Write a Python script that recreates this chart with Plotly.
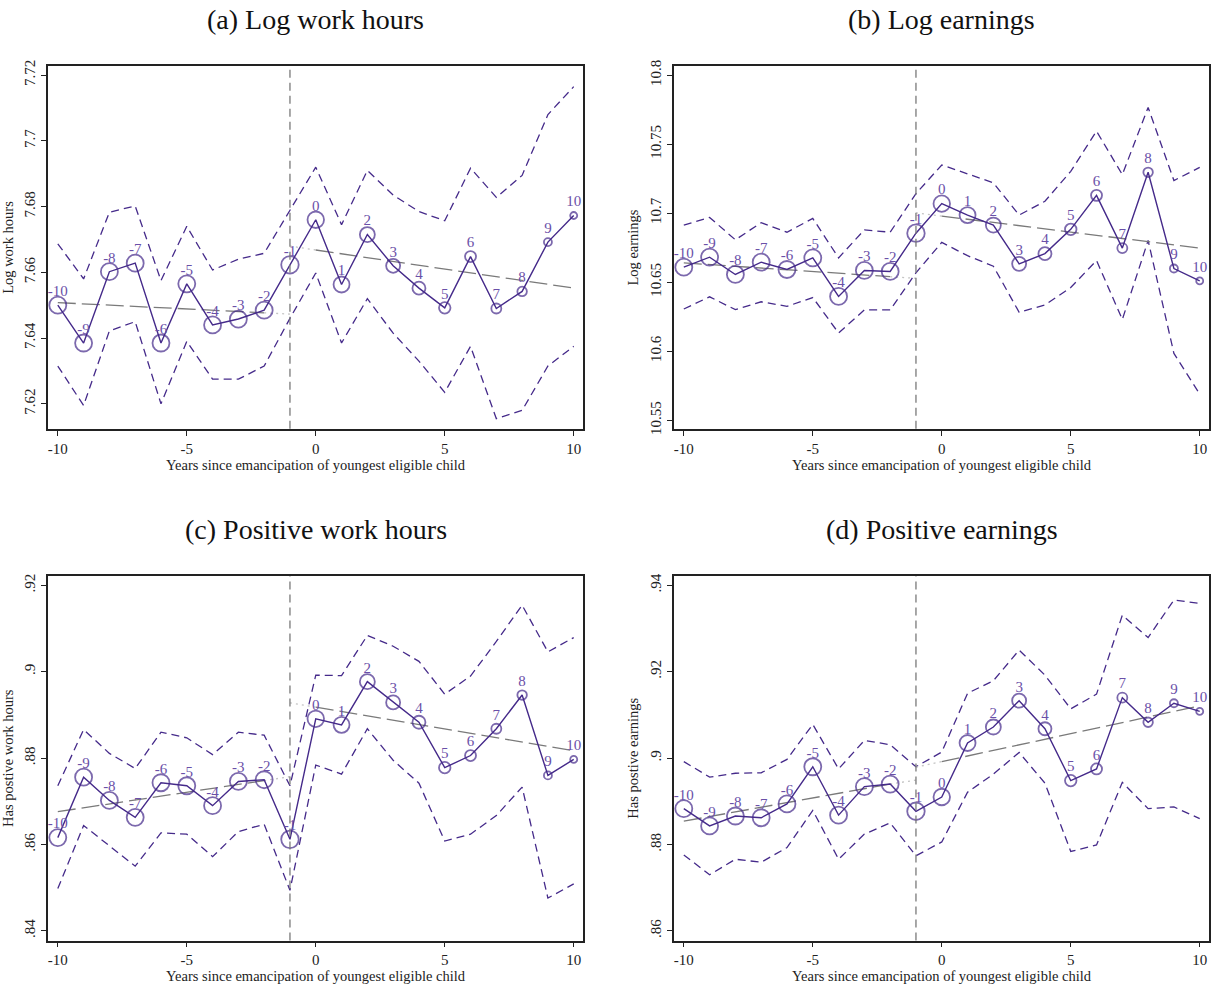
import plotly.graph_objects as go

years = list(range(-10, 11))

# marker sizes (relative sample weight per event year)
marker_size = [17, 17, 17, 17, 17, 17, 17, 17, 17, 17.5, 16.5, 16, 15, 14, 13, 11.5, 11, 10, 9.5, 8, 7]

# (a) Log work hours
a_est = [7.6500, 7.6385, 7.6602, 7.6628, 7.6385, 7.6565, 7.6440, 7.6458, 7.6485, 7.6623, 7.6760,
         7.6563, 7.6715, 7.6620, 7.6552, 7.6492, 7.6648, 7.6490, 7.6542, 7.6692, 7.6773]
a_hi = [7.6687, 7.6580, 7.6783, 7.6802, 7.6575, 7.6740, 7.6607, 7.6640, 7.6658, 7.6790, 7.6920,
        7.6745, 7.6910, 7.6835, 7.6785, 7.6757, 7.6917, 7.6828, 7.6895, 7.7080, 7.7165]
a_lo = [7.6315, 7.6195, 7.6422, 7.6450, 7.6200, 7.6390, 7.6275, 7.6275, 7.6315, 7.6460, 7.6598,
        7.6385, 7.6520, 7.6415, 7.6330, 7.6235, 7.6375, 7.6155, 7.6180, 7.6315, 7.6375]
a_pre = [7.6508, 7.6477, 7.6473]   # fit at -10, -2, -1
a_post = [7.6680, 7.6668, 7.6552]  # fit at -1, 0, 10

# (b) Log earnings
b_est = [10.6609, 10.6681, 10.6556, 10.6645, 10.6592, 10.6676, 10.6397, 10.6585, 10.6578, 10.6855, 10.7069,
         10.6986, 10.6914, 10.6633, 10.6707, 10.6883, 10.7129, 10.6747, 10.7296, 10.6599, 10.6509]
b_hi = [10.6914, 10.6969, 10.6807, 10.6931, 10.6862, 10.6962, 10.6676, 10.6879, 10.6862, 10.7141, 10.7349,
        10.7284, 10.7220, 10.6986, 10.7086, 10.7303, 10.7594, 10.7279, 10.7766, 10.7236, 10.7332]
b_lo = [10.6306, 10.6394, 10.6301, 10.6358, 10.6325, 10.6389, 10.6132, 10.6299, 10.6299, 10.6568, 10.6788,
        10.6692, 10.6616, 10.6282, 10.6335, 10.6461, 10.6657, 10.6230, 10.6802, 10.5984, 10.5690]
b_pre = [10.6640, 10.6540, 10.6528]
b_post = [10.7002, 10.6979, 10.6747]

# (c) Positive work hours
c_est = [0.8616, 0.8756, 0.8702, 0.8663, 0.8743, 0.8736, 0.8690, 0.8746, 0.8750, 0.8612, 0.8891,
         0.8877, 0.8977, 0.8929, 0.8883, 0.8778, 0.8806, 0.8868, 0.8946, 0.8760, 0.8797]
c_hi = [0.8736, 0.8866, 0.8811, 0.8776, 0.8860, 0.8847, 0.8808, 0.8860, 0.8853, 0.8736, 0.8992,
        0.8991, 0.9084, 0.9059, 0.9024, 0.8948, 0.8990, 0.9070, 0.9154, 0.9046, 0.9079]
c_lo = [0.8498, 0.8644, 0.8597, 0.8550, 0.8627, 0.8624, 0.8572, 0.8630, 0.8647, 0.8494, 0.8784,
        0.8763, 0.8868, 0.8795, 0.8742, 0.8608, 0.8624, 0.8667, 0.8733, 0.8476, 0.8509]
c_pre = [0.8676, 0.8748, 0.8757]
c_post = [0.8928, 0.8918, 0.8817]

# (d) Positive earnings
d_est = [0.8883, 0.8843, 0.8866, 0.8862, 0.8894, 0.8980, 0.8868, 0.8934, 0.8940, 0.8877, 0.8910,
         0.9035, 0.9072, 0.9133, 0.9068, 0.8948, 0.8975, 0.9140, 0.9083, 0.9127, 0.9108]
d_hi = [0.8992, 0.8956, 0.8965, 0.8966, 0.8997, 0.9078, 0.8975, 0.9041, 0.9031, 0.8980, 0.9014,
        0.9150, 0.9179, 0.9250, 0.9192, 0.9114, 0.9148, 0.9331, 0.9279, 0.9366, 0.9358]
d_lo = [0.8776, 0.8730, 0.8766, 0.8759, 0.8793, 0.8879, 0.8766, 0.8824, 0.8850, 0.8774, 0.8806,
        0.8921, 0.8963, 0.9013, 0.8942, 0.8784, 0.8799, 0.8944, 0.8883, 0.8887, 0.8860]
d_pre = [0.8854, 0.8940, 0.8949]
d_post = [0.8979, 0.8992, 0.9121]

titles = ["(a) Log work hours", "(b) Log earnings", "(c) Positive work hours", "(d) Positive earnings"]
ytitles = ["Log work hours", "Log earnings", "Has postive work hours", "Has postive earnings"]
ytickvals = [[7.62, 7.64, 7.66, 7.68, 7.70, 7.72],
             [10.55, 10.60, 10.65, 10.70, 10.75, 10.80],
             [0.84, 0.86, 0.88, 0.90, 0.92],
             [0.86, 0.88, 0.90, 0.92, 0.94]]
yticktext = [["7.62", "7.64", "7.66", "7.68", "7.7", "7.72"],
             ["10.55", "10.6", "10.65", "10.7", "10.75", "10.8"],
             [".84", ".86", ".88", ".9", ".92"],
             [".86", ".88", ".9", ".92", ".94"]]
yranges = [[7.6124, 7.7227], [10.5438, 10.8064], [0.83778, 0.92215], [0.85778, 0.94215]]
xtickvals = [-10, -5, 0, 5, 10]
xticktext = ["-10", "-5", "0", "5", "10"]

panels = [(a_est, a_hi, a_lo, a_pre, a_post), (b_est, b_hi, b_lo, b_pre, b_post),
          (c_est, c_hi, c_lo, c_pre, c_post), (d_est, d_hi, d_lo, d_pre, d_post)]

W, H = 1215, 990
# plot-area pixel boxes (left, right, top, bottom)
boxes = [(48, 583, 61, 428), (674, 1209, 61, 428), (48, 583, 577, 946), (674, 1209, 577, 946)]
title_y = [14, 14, 530, 530]

PURPLE = "#452a8a"
LABEL = "#6a50a8"
GRAY = "#7a7a7a"
FONT = "Liberation Serif"

fig = go.Figure()
for i, (est, hi, lo, pre, post) in enumerate(panels):
    xa = "x" if i == 0 else f"x{i+1}"
    ya = "y" if i == 0 else f"y{i+1}"
    # CI bounds
    for band in (hi, lo):
        fig.add_trace(go.Scatter(x=years, y=band, mode="lines", xaxis=xa, yaxis=ya,
                                 line=dict(color=PURPLE, width=1.3, dash="8px,5px"), showlegend=False,
                                 hoverinfo="skip"))
    # pre-period linear fit
    fig.add_trace(go.Scatter(x=[-10, -2], y=pre[:2], mode="lines", xaxis=xa, yaxis=ya,
                             line=dict(color=GRAY, width=1.3, dash="18px,6px"), showlegend=False))
    fig.add_trace(go.Scatter(x=[-2, -1], y=pre[1:], mode="lines", xaxis=xa, yaxis=ya,
                             line=dict(color="#c4c4c4", width=1.3, dash="2px,4px"), showlegend=False))
    # post-period linear fit
    fig.add_trace(go.Scatter(x=[-1, 0], y=post[:2], mode="lines", xaxis=xa, yaxis=ya,
                             line=dict(color="#c4c4c4", width=1.3, dash="2px,4px"), showlegend=False))
    fig.add_trace(go.Scatter(x=[0, 10], y=post[1:], mode="lines", xaxis=xa, yaxis=ya,
                             line=dict(color=GRAY, width=1.3, dash="18px,6px"), showlegend=False))
    # estimates
    fig.add_trace(go.Scatter(x=years, y=est, mode="lines+markers", xaxis=xa, yaxis=ya,
                             line=dict(color=PURPLE, width=1.4),
                             marker=dict(size=marker_size, symbol="circle-open", color=PURPLE,
                                         line=dict(color=PURPLE, width=1.8)),
                             showlegend=False))
    # year labels
    fig.add_trace(go.Scatter(x=years, y=est, mode="markers+text", xaxis=xa, yaxis=ya,
                             text=[str(v) for v in years], textposition="top center",
                             textfont=dict(family=FONT, size=15, color=LABEL),
                             marker=dict(size=7, color="rgba(0,0,0,0)", line=dict(width=0)),
                             showlegend=False, hoverinfo="skip"))
    l, r, t, b = boxes[i]
    common = dict(showline=True, linecolor="#222", linewidth=1.5, mirror=True, showgrid=False,
                  zeroline=False, ticks="outside", ticklen=5, tickcolor="#222",
                  tickfont=dict(family=FONT, size=15, color="#222"))
    fig.update_layout(**{
        ("xaxis" if i == 0 else f"xaxis{i+1}"): dict(
            domain=[l / W, r / W], anchor=ya, range=[-10.38, 10.36],
            tickvals=xtickvals, ticktext=xticktext,
            title=dict(text="Years since emancipation of youngest eligible child",
                       font=dict(family=FONT, size=14.5, color="#222"), standoff=1),
            **common),
        ("yaxis" if i == 0 else f"yaxis{i+1}"): dict(
            domain=[1 - b / H, 1 - t / H], anchor=xa, range=yranges[i],
            tickvals=ytickvals[i], ticktext=yticktext[i], tickangle=-90,
            title=dict(text=ytitles[i], font=dict(family=FONT, size=14.5, color="#222"), standoff=6),
            **common),
    })
    fig.add_shape(type="line", xref=xa, yref=f"{ya} domain", x0=-1, x1=-1, y0=0, y1=1,
                  line=dict(color=GRAY, width=1.3, dash="8px,5px"))
    fig.add_annotation(text=titles[i], xref="paper", yref="paper", x=((l + r) / 2) / W,
                       y=1 - title_y[i] / H, showarrow=False, xanchor="center", yanchor="middle",
                       font=dict(family=FONT, size=28, color="#111"))

fig.update_layout(width=W, height=H, margin=dict(l=0, r=0, t=0, b=0),
                  paper_bgcolor="white", plot_bgcolor="white", showlegend=False)
fig.write_html("out.html")
